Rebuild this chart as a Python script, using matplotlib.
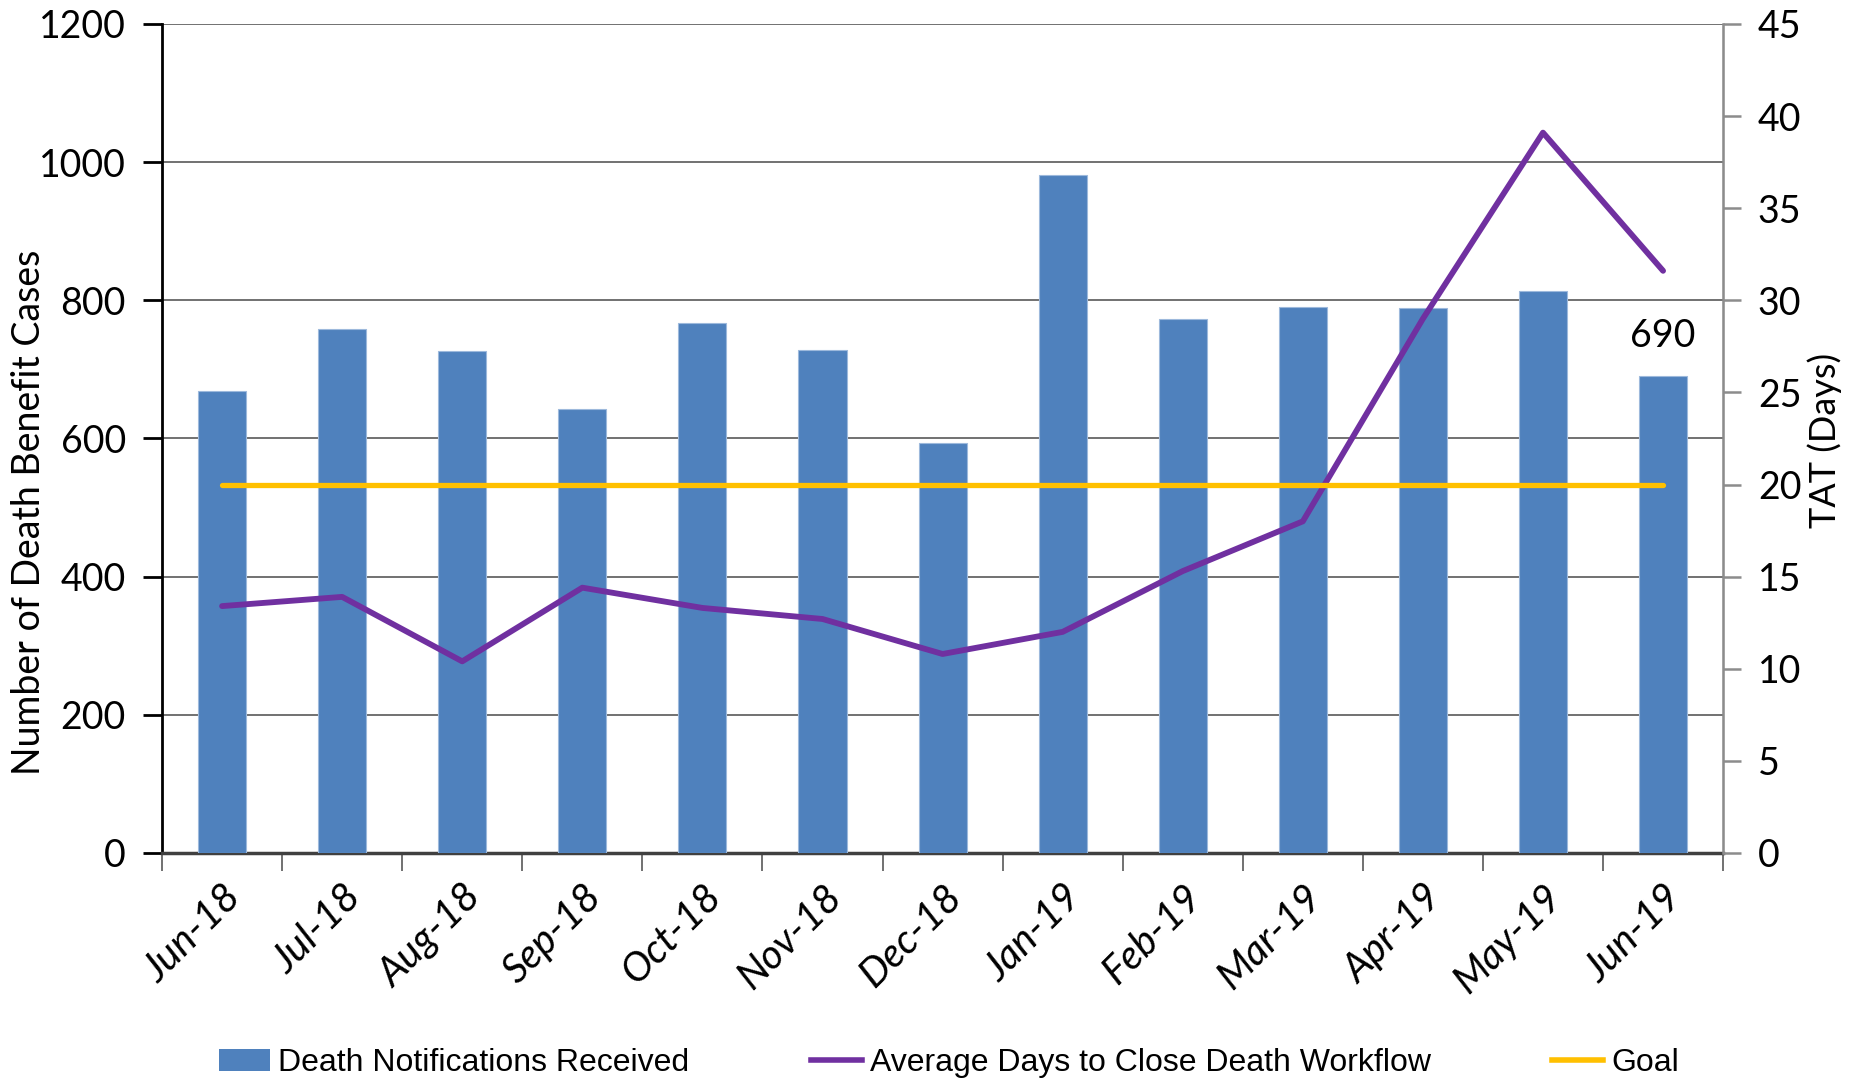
import matplotlib.pyplot as plt
from matplotlib.lines import Line2D
from matplotlib.patches import Patch

months = ["Jun-18", "Jul-18", "Aug-18", "Sep-18", "Oct-18", "Nov-18", "Dec-18",
          "Jan-19", "Feb-19", "Mar-19", "Apr-19", "May-19", "Jun-19"]
notifications = [668, 758, 726, 643, 767, 728, 594, 981, 773, 790, 789, 814, 690]
avg_days = [13.4, 13.9, 10.4, 14.4, 13.3, 12.7, 10.8, 12.0, 15.3, 18.0, 29.0, 39.1, 31.6]
goal = [20] * len(months)

plt.rcParams['font.family'] = ['Lato', 'DejaVu Sans']

fig = plt.figure(figsize=(18.56, 10.79), dpi=100)
ax = fig.add_axes([0.0873, 0.2095, 0.8411, 0.7683])
ax2 = ax.twinx()

x = list(range(len(months)))
ax.bar(x, notifications, width=0.4, color='#4F81BD', edgecolor='#9DB9DC',
       linewidth=0.8, zorder=3)
# data label on last bar
ax.text(x[-1], notifications[-1] + 32, str(notifications[-1]), ha='center', va='bottom',
        fontsize=27)

ax2.plot(x, avg_days, color='#7030A0', lw=4.2, solid_capstyle='round', zorder=4)
ax2.plot(x, goal, color='#FFC000', lw=3.8, solid_capstyle='round', zorder=4)

# left axis
ax.set_xlim(-0.5, len(months) - 0.5)
ax.set_ylim(0, 1200)
ax.set_yticks(range(0, 1201, 200))
ax.yaxis.grid(True, color='#595959', lw=1.2, zorder=0)
ax.set_axisbelow(True)
ax.tick_params(axis='y', labelsize=27, length=14, width=2, color='black', pad=12)
ax.set_ylabel("Number of Death Benefit Cases", fontsize=27)
ax.yaxis.set_label_coords(-0.074, 0.411)

# x ticks at boundaries, labels at centers
ax.set_xticks([i - 0.5 for i in range(len(months) + 1)])
ax.set_xticklabels([])
ax.tick_params(axis='x', which='major', length=13, width=1.2, color='#595959')
ax.set_xticks(x, minor=True)
ax.set_xticklabels(months, minor=True, rotation=45, ha='right', rotation_mode='anchor',
                   fontsize=29, style='italic')
ax.tick_params(axis='x', which='minor', length=0, pad=18)

ax.spines['top'].set_visible(False)
ax2.spines['top'].set_visible(False)
ax.spines['left'].set_color('black')
ax.spines['left'].set_linewidth(2)
ax.spines['bottom'].set_color('#404040')
ax.spines['bottom'].set_linewidth(2.5)
ax2.spines['left'].set_visible(False)
ax2.spines['bottom'].set_visible(False)
ax2.spines['right'].set_color('#8C8C8C')
ax2.spines['right'].set_linewidth(1.8)

# right axis
ax2.set_ylim(0, 45)
ax2.set_yticks(range(0, 46, 5))
ax2.tick_params(axis='y', labelsize=27, length=13, width=1.8, color='#8C8C8C', pad=12)
ax2.set_ylabel("TAT (Days)", fontsize=26)
ax2.yaxis.set_label_coords(1.054, 0.498)

handles = [Patch(facecolor='#4F81BD'),
           Line2D([0], [0], color='#7030A0', lw=4),
           Line2D([0], [0], color='#FFC000', lw=4)]
labels = ["Death Notifications Received", "Average Days to Close Death Workflow", "Goal"]
fig.legend(handles, labels, loc='center left', bbox_to_anchor=(0.118, 0.0148), ncol=3,
           frameon=False, prop={'family': ['Liberation Sans', 'DejaVu Sans'], 'size': 23},
           handlelength=1.6, handletextpad=0.25, columnspacing=3.8,
           borderpad=0, borderaxespad=0)

plt.savefig('out.png', dpi=100)
